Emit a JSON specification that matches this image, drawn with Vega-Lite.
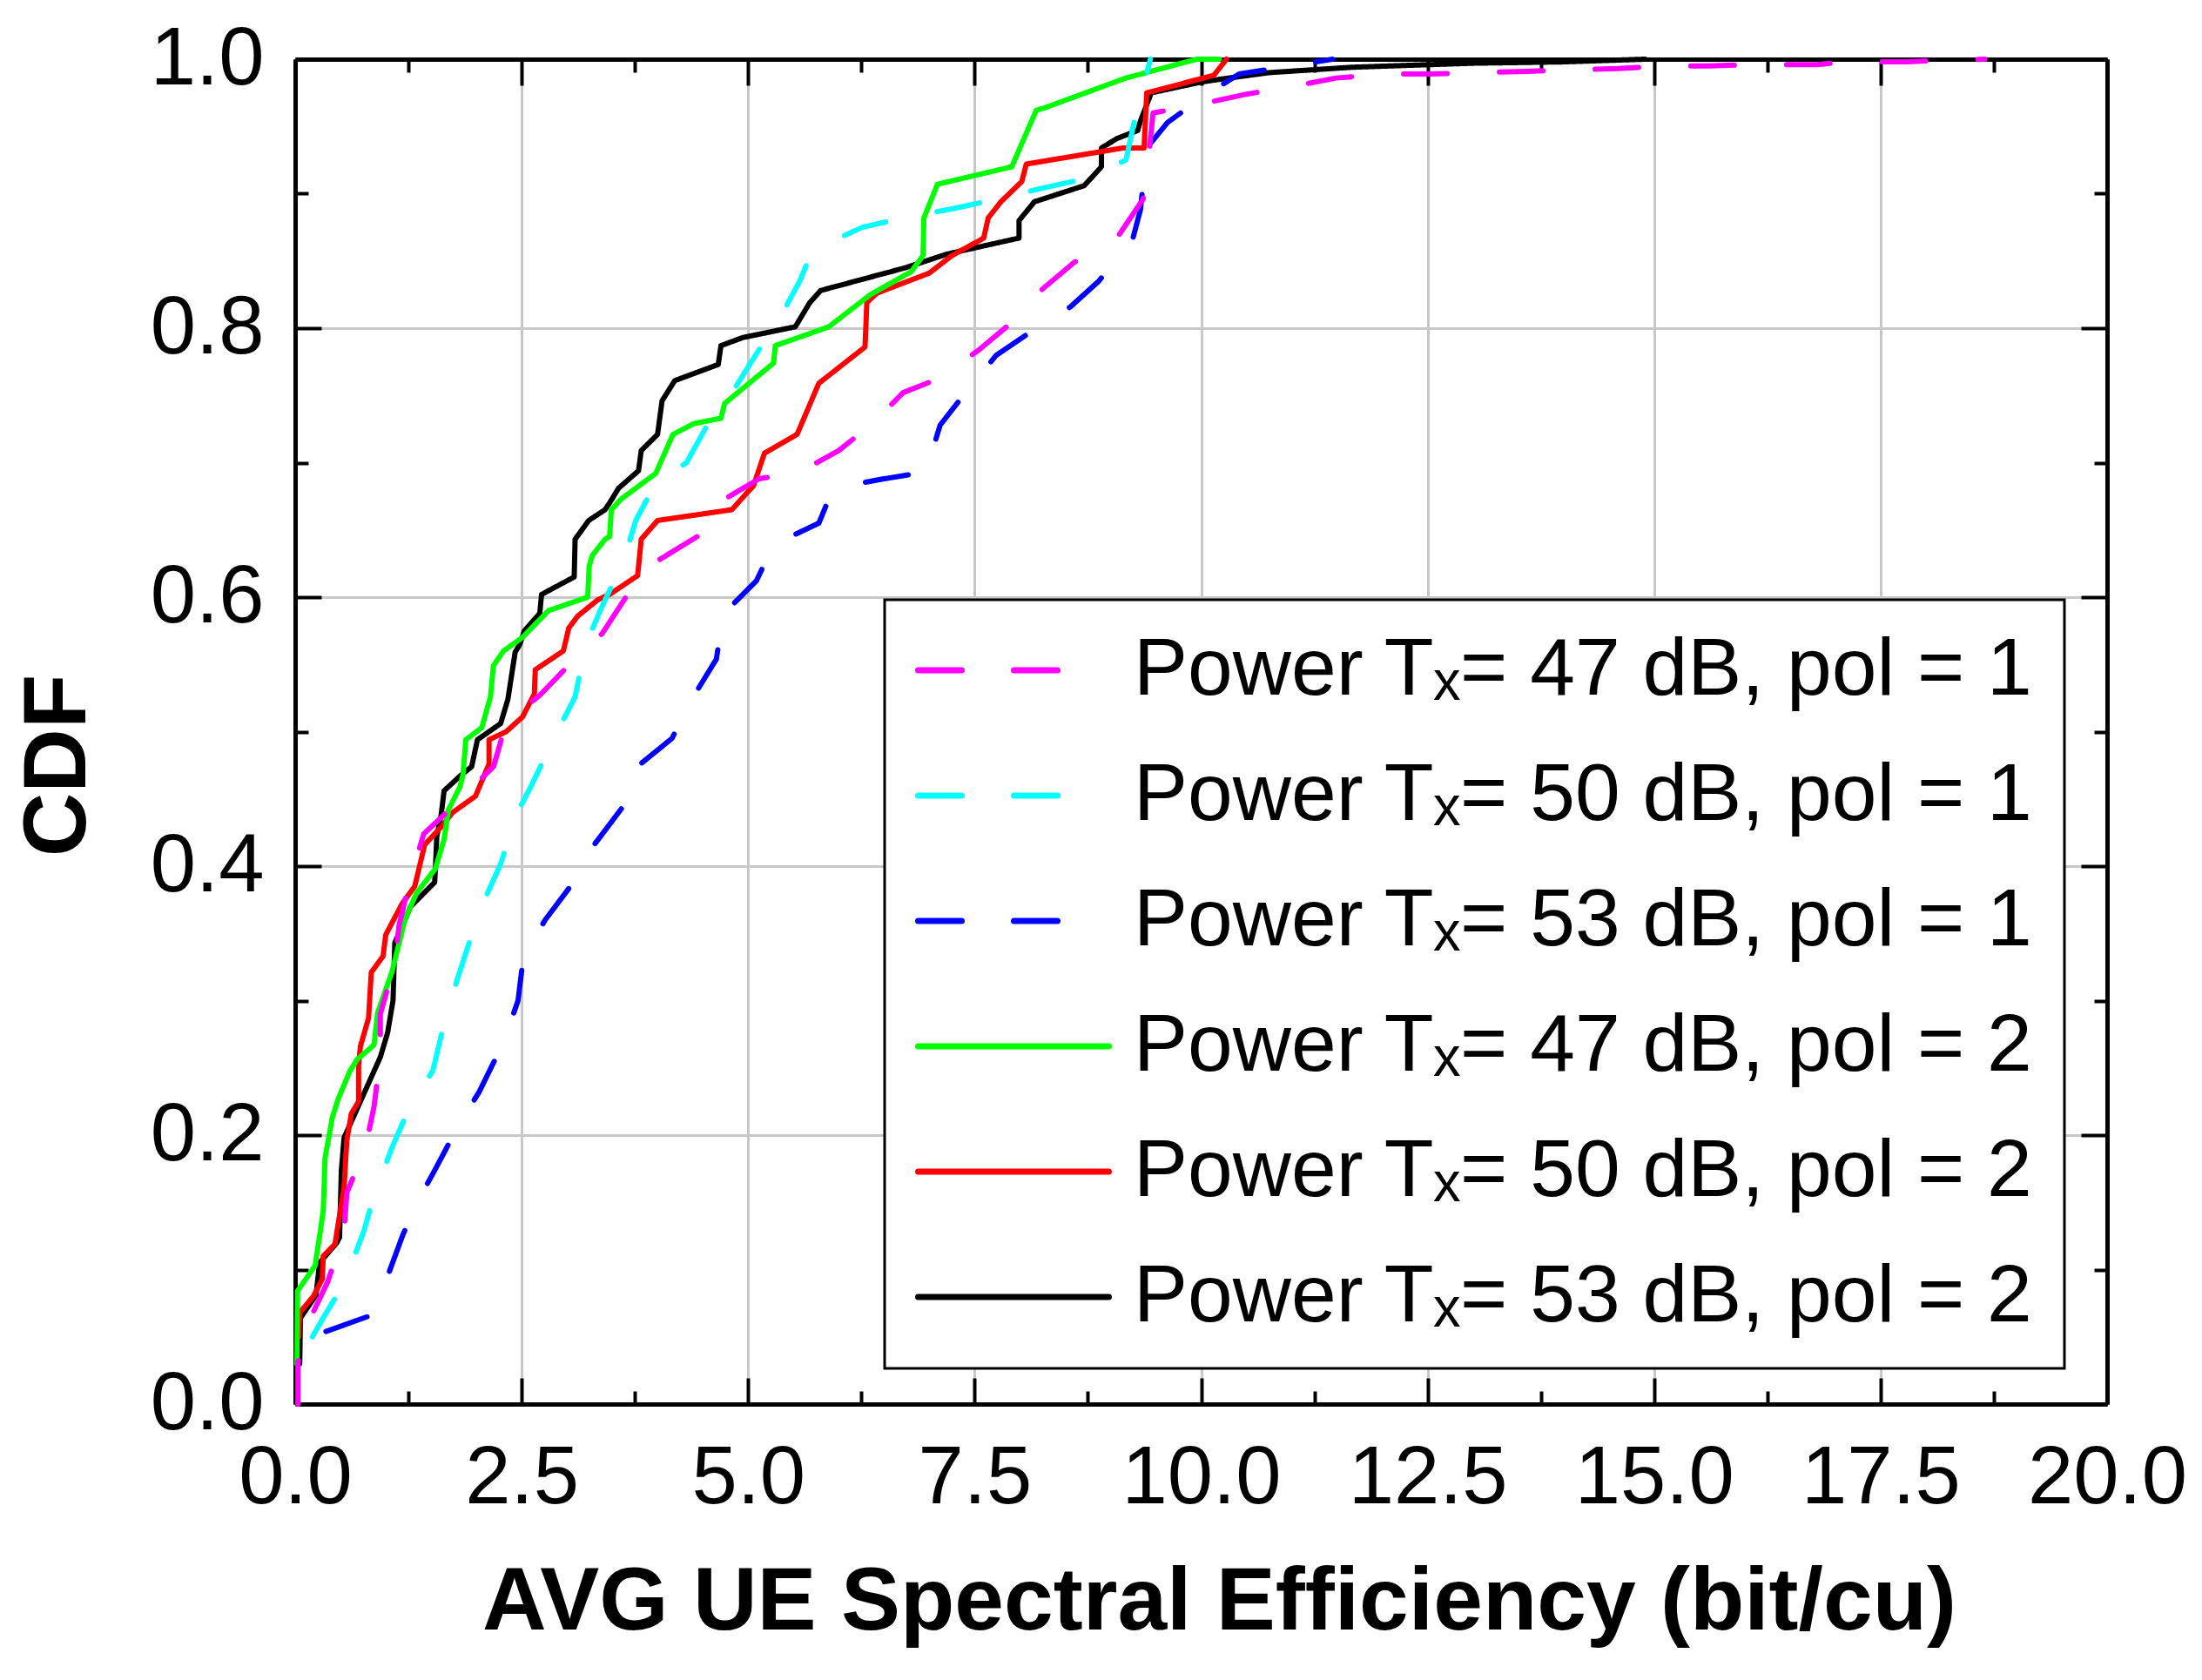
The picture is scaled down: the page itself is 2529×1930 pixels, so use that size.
{
  "$schema": "https://vega.github.io/schema/vega-lite/v6.json",
  "width": 2081,
  "height": 1545,
  "autosize": {"type": "none"},
  "padding": {"left": 339, "top": 68, "right": 109, "bottom": 317},
  "background": "white",
  "config": {
    "view": {"stroke": null},
    "font": "Liberation Sans",
    "legend": {
      "fillColor": "white",
      "strokeColor": "black",
      "padding": 35,
      "labelFont": "Liberation Sans",
      "labelFontSize": 93,
      "labelColor": "black",
      "labelOffset": 25,
      "labelLimit": 3000,
      "symbolType": "stroke",
      "symbolSize": 47961,
      "symbolStrokeWidth": 7,
      "clipHeight": 92,
      "rowPadding": 51
    }
  },
  "data": {
    "values": [
      {"s":"k","x":0.05,"y":0.03},{"s":"k","x":0.058,"y":0.064},{"s":"k","x":0.23,"y":0.081},{"s":"k","x":0.27,"y":0.105},{"s":"k","x":0.46,"y":0.12},{"s":"k","x":0.49,"y":0.124},{"s":"k","x":0.51,"y":0.174},{"s":"k","x":0.54,"y":0.198},{"s":"k","x":0.76,"y":0.231},{"s":"k","x":0.94,"y":0.258},{"s":"k","x":1.02,"y":0.276},{"s":"k","x":1.08,"y":0.3},{"s":"k","x":1.1,"y":0.343},{"s":"k","x":1.275,"y":0.37},{"s":"k","x":1.54,"y":0.388},{"s":"k","x":1.55,"y":0.401},{"s":"k","x":1.563,"y":0.422},{"s":"k","x":1.611,"y":0.438},{"s":"k","x":1.644,"y":0.456},{"s":"k","x":1.82,"y":0.467},{"s":"k","x":1.948,"y":0.474},{"s":"k","x":2.012,"y":0.494},{"s":"k","x":2.268,"y":0.506},{"s":"k","x":2.348,"y":0.524},{"s":"k","x":2.428,"y":0.559},{"s":"k","x":2.48,"y":0.565},{"s":"k","x":2.53,"y":0.575},{"s":"k","x":2.7,"y":0.588},{"s":"k","x":2.72,"y":0.602},{"s":"k","x":2.83,"y":0.606},{"s":"k","x":3.08,"y":0.615},{"s":"k","x":3.09,"y":0.643},{"s":"k","x":3.24,"y":0.657},{"s":"k","x":3.42,"y":0.665},{"s":"k","x":3.47,"y":0.67},{"s":"k","x":3.57,"y":0.681},{"s":"k","x":3.79,"y":0.694},{"s":"k","x":3.82,"y":0.709},{"s":"k","x":4.0,"y":0.721},{"s":"k","x":4.05,"y":0.746},{"s":"k","x":4.19,"y":0.761},{"s":"k","x":4.67,"y":0.773},{"s":"k","x":4.7,"y":0.787},{"s":"k","x":4.94,"y":0.793},{"s":"k","x":5.52,"y":0.801},{"s":"k","x":5.68,"y":0.819},{"s":"k","x":5.8,"y":0.828},{"s":"k","x":6.74,"y":0.845},{"s":"k","x":7.19,"y":0.855},{"s":"k","x":7.99,"y":0.867},{"s":"k","x":7.99,"y":0.88},{"s":"k","x":8.16,"y":0.894},{"s":"k","x":8.71,"y":0.906},{"s":"k","x":8.9,"y":0.92},{"s":"k","x":8.9,"y":0.934},{"s":"k","x":9.07,"y":0.941},{"s":"k","x":9.3,"y":0.947},{"s":"k","x":9.33,"y":0.954},{"s":"k","x":9.45,"y":0.975},{"s":"k","x":10.0,"y":0.983},{"s":"k","x":10.2,"y":0.985},{"s":"k","x":10.75,"y":0.99},{"s":"k","x":11.66,"y":0.994},{"s":"k","x":12.1,"y":0.995},{"s":"k","x":13.0,"y":0.997},{"s":"k","x":14.0,"y":0.998},{"s":"k","x":14.9,"y":1.0},
      {"s":"r","x":0.04,"y":0.05},{"s":"r","x":0.05,"y":0.068},{"s":"r","x":0.2,"y":0.08},{"s":"r","x":0.3,"y":0.093},{"s":"r","x":0.31,"y":0.11},{"s":"r","x":0.44,"y":0.119},{"s":"r","x":0.51,"y":0.149},{"s":"r","x":0.54,"y":0.161},{"s":"r","x":0.57,"y":0.196},{"s":"r","x":0.62,"y":0.216},{"s":"r","x":0.7,"y":0.225},{"s":"r","x":0.7,"y":0.252},{"s":"r","x":0.72,"y":0.266},{"s":"r","x":0.81,"y":0.287},{"s":"r","x":0.84,"y":0.321},{"s":"r","x":0.97,"y":0.333},{"s":"r","x":1.0,"y":0.349},{"s":"r","x":1.18,"y":0.372},{"s":"r","x":1.32,"y":0.385},{"s":"r","x":1.43,"y":0.416},{"s":"r","x":1.61,"y":0.429},{"s":"r","x":1.74,"y":0.44},{"s":"r","x":1.99,"y":0.452},{"s":"r","x":2.14,"y":0.476},{"s":"r","x":2.14,"y":0.494},{"s":"r","x":2.33,"y":0.5},{"s":"r","x":2.51,"y":0.511},{"s":"r","x":2.64,"y":0.528},{"s":"r","x":2.65,"y":0.546},{"s":"r","x":2.96,"y":0.56},{"s":"r","x":3.02,"y":0.577},{"s":"r","x":3.12,"y":0.586},{"s":"r","x":3.34,"y":0.598},{"s":"r","x":3.47,"y":0.602},{"s":"r","x":3.78,"y":0.616},{"s":"r","x":3.82,"y":0.643},{"s":"r","x":4.0,"y":0.657},{"s":"r","x":4.82,"y":0.665},{"s":"r","x":5.06,"y":0.683},{"s":"r","x":5.18,"y":0.707},{"s":"r","x":5.54,"y":0.721},{"s":"r","x":5.78,"y":0.759},{"s":"r","x":6.29,"y":0.786},{"s":"r","x":6.31,"y":0.819},{"s":"r","x":6.42,"y":0.826},{"s":"r","x":7.0,"y":0.841},{"s":"r","x":7.25,"y":0.854},{"s":"r","x":7.6,"y":0.867},{"s":"r","x":7.65,"y":0.882},{"s":"r","x":7.79,"y":0.894},{"s":"r","x":8.02,"y":0.909},{"s":"r","x":8.07,"y":0.922},{"s":"r","x":9.14,"y":0.934},{"s":"r","x":9.37,"y":0.934},{"s":"r","x":9.4,"y":0.975},{"s":"r","x":10.14,"y":0.988},{"s":"r","x":10.28,"y":1.0},
      {"s":"g","x":0.02,"y":0.03},{"s":"g","x":0.026,"y":0.084},{"s":"g","x":0.22,"y":0.103},{"s":"g","x":0.27,"y":0.125},{"s":"g","x":0.31,"y":0.144},{"s":"g","x":0.33,"y":0.183},{"s":"g","x":0.41,"y":0.213},{"s":"g","x":0.47,"y":0.226},{"s":"g","x":0.6,"y":0.247},{"s":"g","x":0.68,"y":0.256},{"s":"g","x":0.87,"y":0.267},{"s":"g","x":0.91,"y":0.291},{"s":"g","x":1.067,"y":0.321},{"s":"g","x":1.211,"y":0.36},{"s":"g","x":1.339,"y":0.38},{"s":"g","x":1.547,"y":0.398},{"s":"g","x":1.644,"y":0.42},{"s":"g","x":1.692,"y":0.442},{"s":"g","x":1.82,"y":0.459},{"s":"g","x":1.852,"y":0.468},{"s":"g","x":1.884,"y":0.494},{"s":"g","x":2.06,"y":0.503},{"s":"g","x":2.156,"y":0.526},{"s":"g","x":2.188,"y":0.549},{"s":"g","x":2.3,"y":0.56},{"s":"g","x":2.508,"y":0.57},{"s":"g","x":2.797,"y":0.59},{"s":"g","x":3.229,"y":0.6},{"s":"g","x":3.245,"y":0.623},{"s":"g","x":3.28,"y":0.631},{"s":"g","x":3.42,"y":0.643},{"s":"g","x":3.47,"y":0.645},{"s":"g","x":3.49,"y":0.665},{"s":"g","x":3.6,"y":0.673},{"s":"g","x":3.98,"y":0.692},{"s":"g","x":4.17,"y":0.721},{"s":"g","x":4.4,"y":0.729},{"s":"g","x":4.7,"y":0.733},{"s":"g","x":4.74,"y":0.744},{"s":"g","x":5.28,"y":0.774},{"s":"g","x":5.3,"y":0.787},{"s":"g","x":5.89,"y":0.801},{"s":"g","x":6.35,"y":0.825},{"s":"g","x":6.8,"y":0.842},{"s":"g","x":6.93,"y":0.854},{"s":"g","x":6.94,"y":0.882},{"s":"g","x":7.09,"y":0.907},{"s":"g","x":7.91,"y":0.92},{"s":"g","x":8.18,"y":0.962},{"s":"g","x":8.28,"y":0.964},{"s":"g","x":9.17,"y":0.986},{"s":"g","x":9.95,"y":1.0},{"s":"g","x":10.2,"y":1.0},
      {"s":"b","x":0.34,"y":0.054},{"s":"b","x":0.84,"y":0.066},{"s":"b","x":1.02,"y":0.095},{"s":"b","x":1.19,"y":0.126},{"s":"b","x":1.37,"y":0.153},{"s":"b","x":1.55,"y":0.175},{"s":"b","x":1.8,"y":0.207},{"s":"b","x":2.03,"y":0.232},{"s":"b","x":2.3,"y":0.269},{"s":"b","x":2.46,"y":0.3},{"s":"b","x":2.52,"y":0.333},{"s":"b","x":2.76,"y":0.36},{"s":"b","x":3.05,"y":0.386},{"s":"b","x":3.28,"y":0.414},{"s":"b","x":3.65,"y":0.447},{"s":"b","x":3.74,"y":0.472},{"s":"b","x":4.16,"y":0.495},{"s":"b","x":4.35,"y":0.521},{"s":"b","x":4.65,"y":0.554},{"s":"b","x":4.72,"y":0.587},{"s":"b","x":5.09,"y":0.612},{"s":"b","x":5.28,"y":0.639},{"s":"b","x":5.78,"y":0.655},{"s":"b","x":5.94,"y":0.681},{"s":"b","x":6.5,"y":0.688},{"s":"b","x":6.96,"y":0.693},{"s":"b","x":7.12,"y":0.728},{"s":"b","x":7.41,"y":0.753},{"s":"b","x":7.74,"y":0.78},{"s":"b","x":8.07,"y":0.795},{"s":"b","x":8.56,"y":0.816},{"s":"b","x":8.87,"y":0.835},{"s":"b","x":9.24,"y":0.865},{"s":"b","x":9.33,"y":0.888},{"s":"b","x":9.4,"y":0.934},{"s":"b","x":9.63,"y":0.953},{"s":"b","x":10.04,"y":0.973},{"s":"b","x":10.42,"y":0.989},{"s":"b","x":10.98,"y":0.995},{"s":"b","x":11.45,"y":1.0},
      {"s":"c","x":0.19,"y":0.05},{"s":"c","x":0.3,"y":0.063},{"s":"c","x":0.55,"y":0.091},{"s":"c","x":0.76,"y":0.129},{"s":"c","x":0.86,"y":0.153},{"s":"c","x":1.07,"y":0.191},{"s":"c","x":1.24,"y":0.217},{"s":"c","x":1.52,"y":0.248},{"s":"c","x":1.63,"y":0.279},{"s":"c","x":1.79,"y":0.316},{"s":"c","x":1.93,"y":0.345},{"s":"c","x":2.09,"y":0.375},{"s":"c","x":2.27,"y":0.402},{"s":"c","x":2.44,"y":0.438},{"s":"c","x":2.6,"y":0.459},{"s":"c","x":2.88,"y":0.498},{"s":"c","x":3.09,"y":0.526},{"s":"c","x":3.21,"y":0.565},{"s":"c","x":3.36,"y":0.589},{"s":"c","x":3.63,"y":0.628},{"s":"c","x":3.76,"y":0.657},{"s":"c","x":3.98,"y":0.685},{"s":"c","x":4.32,"y":0.7},{"s":"c","x":4.59,"y":0.733},{"s":"c","x":4.85,"y":0.755},{"s":"c","x":5.12,"y":0.784},{"s":"c","x":5.36,"y":0.809},{"s":"c","x":5.57,"y":0.835},{"s":"c","x":5.71,"y":0.858},{"s":"c","x":6.26,"y":0.875},{"s":"c","x":6.72,"y":0.882},{"s":"c","x":7.27,"y":0.889},{"s":"c","x":7.75,"y":0.896},{"s":"c","x":8.24,"y":0.904},{"s":"c","x":8.71,"y":0.911},{"s":"c","x":9.17,"y":0.925},{"s":"c","x":9.27,"y":0.956},{"s":"c","x":9.44,"y":1.0},
      {"s":"m","x":0.03,"y":0.0},{"s":"m","x":0.03,"y":0.031},{"s":"m","x":0.14,"y":0.06},{"s":"m","x":0.36,"y":0.091},{"s":"m","x":0.54,"y":0.128},{"s":"m","x":0.57,"y":0.157},{"s":"m","x":0.78,"y":0.192},{"s":"m","x":0.87,"y":0.221},{"s":"m","x":0.94,"y":0.259},{"s":"m","x":0.94,"y":0.29},{"s":"m","x":1.1,"y":0.328},{"s":"m","x":1.147,"y":0.356},{"s":"m","x":1.275,"y":0.392},{"s":"m","x":1.42,"y":0.424},{"s":"m","x":1.8,"y":0.448},{"s":"m","x":2.19,"y":0.474},{"s":"m","x":2.33,"y":0.507},{"s":"m","x":2.7,"y":0.527},{"s":"m","x":3.1,"y":0.555},{"s":"m","x":3.39,"y":0.573},{"s":"m","x":3.69,"y":0.604},{"s":"m","x":4.0,"y":0.627},{"s":"m","x":4.51,"y":0.648},{"s":"m","x":4.72,"y":0.672},{"s":"m","x":5.12,"y":0.688},{"s":"m","x":5.57,"y":0.693},{"s":"m","x":6.0,"y":0.709},{"s":"m","x":6.37,"y":0.729},{"s":"m","x":6.71,"y":0.752},{"s":"m","x":7.12,"y":0.763},{"s":"m","x":7.55,"y":0.784},{"s":"m","x":7.94,"y":0.806},{"s":"m","x":8.23,"y":0.828},{"s":"m","x":8.6,"y":0.849},{"s":"m","x":9.07,"y":0.867},{"s":"m","x":9.36,"y":0.896},{"s":"m","x":9.43,"y":0.934},{"s":"m","x":9.47,"y":0.96},{"s":"m","x":10.02,"y":0.967},{"s":"m","x":10.5,"y":0.974},{"s":"m","x":11.03,"y":0.98},{"s":"m","x":11.49,"y":0.986},{"s":"m","x":12.02,"y":0.989},{"s":"m","x":12.52,"y":0.989},{"s":"m","x":13.05,"y":0.99},{"s":"m","x":13.6,"y":0.991},{"s":"m","x":14.07,"y":0.992},{"s":"m","x":14.6,"y":0.993},{"s":"m","x":15.1,"y":0.995},{"s":"m","x":15.6,"y":0.995},{"s":"m","x":16.1,"y":0.996},{"s":"m","x":16.8,"y":0.996},{"s":"m","x":17.1,"y":0.998},{"s":"m","x":17.8,"y":0.998},{"s":"m","x":18.1,"y":0.999},{"s":"m","x":18.65,"y":1.0}
    ]
  },
  "layer": [
    {
      "mark": {"type": "line", "strokeWidth": 6, "strokeCap": "round", "strokeJoin": "round"},
      "encoding": {
        "x": {
          "field": "x", "type": "quantitative",
          "scale": {"domain": [0, 20], "nice": false, "zero": false},
          "axis": {
            "orient": "bottom",
            "values": [0, 2.5, 5, 7.5, 10, 12.5, 15, 17.5, 20],
            "format": ".1f",
            "labelFlush": false, "labelOverlap": false, "labelBound": false, "labelLimit": 600,
            "labelFont": "Liberation Sans", "labelFontSize": 94, "labelColor": "black",
            "labelPadding": 143, "labelBaseline": "alphabetic",
            "tickSize": -30, "tickWidth": 4, "tickColor": "black",
            "domainColor": "black", "domainWidth": 5,
            "grid": true, "gridColor": "#c8c8c8", "gridWidth": 3,
            "title": "AVG UE Spectral Efficiency (bit/cu)",
            "titleFont": "Liberation Sans", "titleFontSize": 102, "titleFontWeight": "bold", "titleColor": "black", "titleLimit": 3000,
            "titleX": 1061, "titleY": 258, "titleAlign": "center", "titleBaseline": "alphabetic"
          }
        },
        "y": {
          "field": "y", "type": "quantitative",
          "scale": {"domain": [0, 1], "nice": false},
          "axis": {
            "orient": "left",
            "values": [0, 0.2, 0.4, 0.6, 0.8, 1],
            "format": ".1f",
            "labelFlush": false, "labelOverlap": false, "labelBound": false, "labelLimit": 600,
            "labelFont": "Liberation Sans", "labelFontSize": 94, "labelColor": "black",
            "labelPadding": 66, "labelBaseline": "middle",
            "tickSize": -30, "tickWidth": 4, "tickColor": "black",
            "domainColor": "black", "domainWidth": 5,
            "grid": true, "gridColor": "#c8c8c8", "gridWidth": 3,
            "title": "CDF",
            "titleFont": "Liberation Sans", "titleFontSize": 102, "titleFontWeight": "bold", "titleColor": "black",
            "titleX": -242, "titleY": 811, "titleAngle": -90, "titleAlign": "center", "titleBaseline": "alphabetic"
          }
        },
        "color": {
          "field": "s", "type": "nominal",
          "scale": {"domain": ["m", "c", "b", "g", "r", "k"], "range": ["#ff00ff", "#00ffff", "#0000ff", "#00ff00", "#ff0000", "#000000"]},
          "legend": {
            "title": null, "orient": "none", "legendX": 677, "legendY": 621,
            "labelExpr": "datum.label == 'm' ? 'Power Tₓ= 47 dB, pol = 1' : datum.label == 'c' ? 'Power Tₓ= 50 dB, pol = 1' : datum.label == 'b' ? 'Power Tₓ= 53 dB, pol = 1' : datum.label == 'g' ? 'Power Tₓ= 47 dB, pol = 2' : datum.label == 'r' ? 'Power Tₓ= 50 dB, pol = 2' : 'Power Tₓ= 53 dB, pol = 2'",
            "encode": {
              "legend": {"update": {"strokeWidth": {"value": 3}}},
              "symbols": {"update": {"strokeCap": {"value": "round"}}}
            }
          }
        },
        "strokeDash": {
          "field": "s", "type": "nominal",
          "scale": {"domain": ["m", "c", "b", "g", "r", "k"], "range": [[50, 60], [50, 60], [50, 60], [1, 0], [1, 0], [1, 0]]},
          "legend": {
            "title": null, "orient": "none", "legendX": 677, "legendY": 621,
            "labelExpr": "datum.label == 'm' ? 'Power Tₓ= 47 dB, pol = 1' : datum.label == 'c' ? 'Power Tₓ= 50 dB, pol = 1' : datum.label == 'b' ? 'Power Tₓ= 53 dB, pol = 1' : datum.label == 'g' ? 'Power Tₓ= 47 dB, pol = 2' : datum.label == 'r' ? 'Power Tₓ= 50 dB, pol = 2' : 'Power Tₓ= 53 dB, pol = 2'",
            "encode": {
              "legend": {"update": {"strokeWidth": {"value": 3}}},
              "symbols": {"update": {"strokeCap": {"value": "round"}}}
            }
          }
        },
        "order": {"value": null}
      }
    },
    {
      "mark": {"type": "point", "opacity": 0},
      "encoding": {
        "x": {
          "field": "x", "type": "quantitative",
          "axis": {
            "orient": "bottom",
            "values": [1.25, 3.75, 6.25, 8.75, 11.25, 13.75, 16.25, 18.75],
            "labels": false, "grid": false, "domain": false,
            "tickSize": -15, "tickWidth": 4, "tickColor": "black", "title": null
          }
        },
        "y": {
          "field": "y", "type": "quantitative",
          "axis": {
            "orient": "left",
            "values": [0.1, 0.3, 0.5, 0.7, 0.9],
            "labels": false, "grid": false, "domain": false,
            "tickSize": -15, "tickWidth": 4, "tickColor": "black", "title": null
          }
        }
      }
    },
    {
      "mark": {"type": "point", "opacity": 0},
      "encoding": {
        "x": {
          "field": "x", "type": "quantitative",
          "axis": {
            "orient": "top",
            "values": [0, 2.5, 5, 7.5, 10, 12.5, 15, 17.5, 20],
            "labels": false, "grid": false, "domain": true, "domainColor": "black", "domainWidth": 5,
            "tickSize": -30, "tickWidth": 4, "tickColor": "black", "title": null
          }
        },
        "y": {
          "field": "y", "type": "quantitative",
          "axis": {
            "orient": "right",
            "values": [0, 0.2, 0.4, 0.6, 0.8, 1],
            "labels": false, "grid": false, "domain": true, "domainColor": "black", "domainWidth": 5,
            "tickSize": -30, "tickWidth": 4, "tickColor": "black", "title": null
          }
        }
      }
    },
    {
      "mark": {"type": "point", "opacity": 0},
      "encoding": {
        "x": {
          "field": "x", "type": "quantitative",
          "axis": {
            "orient": "top",
            "values": [1.25, 3.75, 6.25, 8.75, 11.25, 13.75, 16.25, 18.75],
            "labels": false, "grid": false, "domain": false,
            "tickSize": -15, "tickWidth": 4, "tickColor": "black", "title": null
          }
        },
        "y": {
          "field": "y", "type": "quantitative",
          "axis": {
            "orient": "right",
            "values": [0.1, 0.3, 0.5, 0.7, 0.9],
            "labels": false, "grid": false, "domain": false,
            "tickSize": -15, "tickWidth": 4, "tickColor": "black", "title": null
          }
        }
      }
    }
  ],
  "resolve": {"axis": {"x": "independent", "y": "independent"}}
}
